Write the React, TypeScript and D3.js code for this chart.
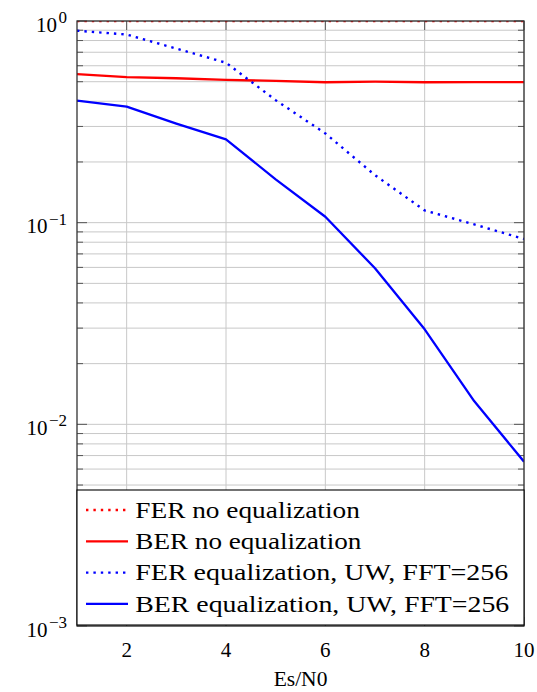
import React from "react";
import * as d3 from "d3";

const esn0 = [1, 2, 3, 4, 5, 6, 7, 8, 9, 10];
const ferNoEq = [1, 1, 1, 1, 1, 1, 1, 1, 1, 1];
const berNoEq = [0.545, 0.527, 0.52, 0.51, 0.505, 0.497, 0.5, 0.497, 0.498, 0.498];
const ferEq = [0.895, 0.857, 0.73, 0.621, 0.405, 0.277, 0.172, 0.115, 0.098, 0.083];
const berEq = [0.403, 0.376, 0.31, 0.259, 0.164, 0.107, 0.0594, 0.0296, 0.013, 0.00653];

const xTicks = [2, 4, 6, 8, 10];
const yDecades = [0, -1, -2, -3];
const xLabel = "Es/N0";

const legendLabels = [
  "FER no equalization",
  "BER no equalization",
  "FER equalization, UW, FFT=256",
  "BER equalization, UW, FFT=256",
];

const series = [
  { values: ferNoEq, color: "#ff0000", dotted: true },
  { values: berNoEq, color: "#ff0000", dotted: false },
  { values: ferEq, color: "#0000ff", dotted: true },
  { values: berEq, color: "#0000ff", dotted: false },
];

const W = 537;
const H = 692;
const L = 77;
const R = 524;
const T = 21;
const B = 626;
const FONT = "Liberation Serif";

export default function App() {
  const x = d3.scaleLinear().domain([1, 10]).range([L, R]);
  const y = d3.scaleLog().domain([1e-3, 1]).range([B, T]);

  const minor: number[] = [];
  for (let e = -3; e < 0; e++) {
    for (let k = 2; k <= 9; k++) minor.push(k * Math.pow(10, e));
  }
  const majors = yDecades.map((e) => Math.pow(10, e));

  const line = (vals: number[]) =>
    d3
      .line<number>()
      .x((_, i) => x(esn0[i]))
      .y((v) => y(v))(vals) as string;

  const legX = L;
  const legY = 490;
  const legW = R - L;
  const legH = 135;
  const rowStep = 31.3;
  const legWidths = [224.5, 226, 373, 374];

  return (
    <svg width={W} height={H} style={{ position: "absolute", left: 0, top: 0 }}>
      <defs>
        <clipPath id="plotClip">
          <rect x={L} y={T} width={R - L} height={B - T} />
        </clipPath>
      </defs>
      <rect x={0} y={0} width={W} height={H} fill="#fff" />
      <g stroke="#c8c8c8" strokeWidth={1}>
        {minor.concat(majors).map((v, i) => (
          <line key={"gy" + i} x1={L} x2={R} y1={y(v)} y2={y(v)} />
        ))}
        {xTicks.map((t) => (
          <line key={"gx" + t} x1={x(t)} x2={x(t)} y1={T} y2={B} />
        ))}
      </g>
      <g stroke="#555" strokeWidth={1}>
        {minor.map((v, i) => (
          <g key={"mt" + i}>
            <line x1={L} x2={L + 6} y1={y(v)} y2={y(v)} />
            <line x1={R} x2={R - 6} y1={y(v)} y2={y(v)} />
          </g>
        ))}
        {majors.map((v, i) => (
          <g key={"Mt" + i}>
            <line x1={L} x2={L + 10} y1={y(v)} y2={y(v)} />
            <line x1={R} x2={R - 10} y1={y(v)} y2={y(v)} />
          </g>
        ))}
        {xTicks.map((t) => (
          <g key={"xt" + t}>
            <line x1={x(t)} x2={x(t)} y1={T} y2={T + 9} />
            <line x1={x(t)} x2={x(t)} y1={B} y2={B - 9} />
          </g>
        ))}
      </g>
      <g clipPath="url(#plotClip)" fill="none">
        {series.map((s, i) => (
          <path
            key={"s" + i}
            d={line(s.values)}
            stroke={s.color}
            strokeWidth={s.dotted ? 2.4 : 2.3}
            strokeDasharray={s.dotted ? "2.4 5" : undefined}
            strokeLinejoin="round"
          />
        ))}
      </g>
      <rect x={L} y={T} width={R - L} height={B - T} fill="none" stroke="#333" strokeWidth={1.3} />
      <g>
        <rect x={legX} y={legY} width={legW} height={legH} fill="#fff" stroke="#000" strokeWidth={1.1} />
        {series.map((s, i) => {
          const ly = legY + 20 + i * rowStep;
          return (
            <g key={"lg" + i}>
              <line
                x1={86}
                x2={128}
                y1={ly}
                y2={ly}
                stroke={s.color}
                strokeWidth={s.dotted ? 2.4 : 2.3}
                strokeDasharray={s.dotted ? "2.4 5" : undefined}
              />
              <text
                x={135.3}
                y={ly + 7.7}
                fontFamily={FONT}
                fontSize={23.5}
                textLength={legWidths[i]}
                lengthAdjust="spacingAndGlyphs"
              >
                {legendLabels[i]}
              </text>
            </g>
          );
        })}
      </g>
      {yDecades.map((e) => (
        <text
          key={"yl" + e}
          x={67}
          y={y(Math.pow(10, e)) + 10.6}
          textAnchor="end"
          fontFamily={FONT}
          fontSize={21}
        >
          10
          <tspan fontSize={17} dx={1.5} dy={-8.6}>
            {e === 0 ? "0" : "\u2212" + Math.abs(e)}
          </tspan>
        </text>
      ))}
      {xTicks.map((t) => (
        <text key={"xl" + t} x={x(t)} y={657} textAnchor="middle" fontFamily={FONT} fontSize={21}>
          {t}
        </text>
      ))}
      <text x={(L + R) / 2} y={686} textAnchor="middle" fontFamily={FONT} fontSize={21.5}>
        {xLabel}
      </text>
    </svg>
  );
}
